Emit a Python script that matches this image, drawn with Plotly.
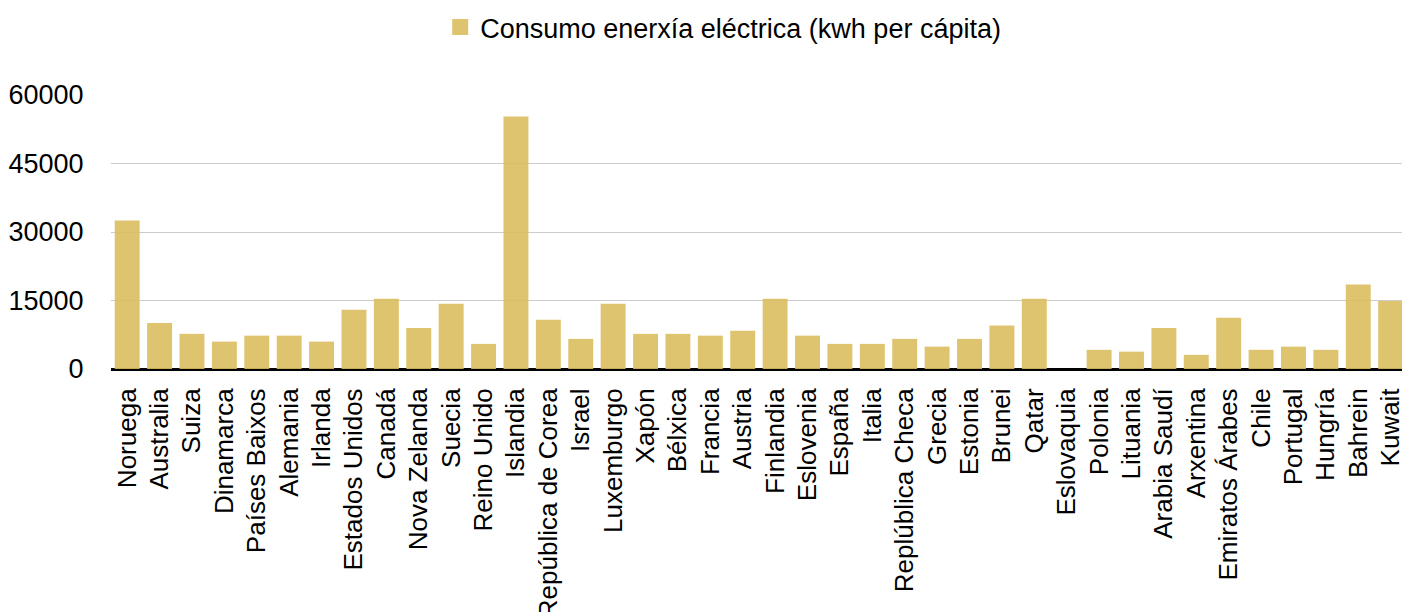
import plotly.graph_objects as go

# Electricity consumption per capita by country
countries = [
    "Noruega", "Australia", "Suiza", "Dinamarca", "Países Baixos", "Alemania",
    "Irlanda", "Estados Unidos", "Canadá", "Nova Zelanda", "Suecia", "Reino Unido",
    "Islandia", "República de Corea", "Israel", "Luxemburgo", "Xapón", "Bélxica",
    "Francia", "Austria", "Finlandia", "Eslovenia", "España", "Italia",
    "Replública Checa", "Grecia", "Estonia", "Brunei", "Qatar", "Eslovaquia",
    "Polonia", "Lituania", "Arabia Saudí", "Arxentina", "Emiratos Árabes", "Chile",
    "Portugal", "Hungría", "Bahrein", "Kuwait",
]
consumo_kwh = [
    32500, 10100, 7700, 6000, 7300, 7300,
    6000, 13000, 15400, 9000, 14300, 5500,
    55300, 10800, 6600, 14300, 7700, 7700,
    7300, 8400, 15400, 7300, 5500, 5500,
    6600, 4900, 6600, 9500, 15400, 0,
    4200, 3800, 9000, 3100, 11200, 4200,
    4900, 4200, 18500, 14900,
]
y_ticks = [0, 15000, 30000, 45000, 60000]
series_name = "Consumo enerxía eléctrica (kwh per cápita)"

bar_color = "rgba(219,190,97,0.9)"
font_family = "Liberation Sans, Arial, Helvetica, sans-serif"

fig = go.Figure()
fig.add_trace(go.Bar(
    x=countries,
    y=consumo_kwh,
    marker=dict(color=bar_color, line=dict(width=0)),
    showlegend=False,
    name=series_name,
))
# Legend entry with a larger square swatch
fig.add_trace(go.Scatter(
    x=[None], y=[None],
    mode="markers",
    marker=dict(symbol="square", size=16, color=bar_color),
    name=series_name,
    showlegend=True,
))

fig.update_layout(
    width=1402,
    height=612,
    margin=dict(l=111, r=0, t=95, b=243, pad=0),
    paper_bgcolor="white",
    plot_bgcolor="white",
    font=dict(family=font_family, size=26, color="#000000"),
    bargap=0.23,
    legend=dict(
        orientation="h",
        x=0.255, xanchor="left",
        y=0.995, yanchor="top", yref="container",
        font=dict(size=27, color="#000000"),
        bgcolor="rgba(0,0,0,0)",
    ),
    xaxis=dict(
        type="category",
        range=[-0.5, 39.35],
        tickangle=-90,
        showgrid=False,
        showline=False,
        ticks="outside",
        ticklen=8,
        tickcolor="rgba(0,0,0,0)",
        tickfont=dict(size=26),
        automargin=False,
        fixedrange=True,
    ),
    yaxis=dict(
        range=[0, 60000],
        tickvals=y_ticks,
        ticktext=[str(v) for v in y_ticks],
        showgrid=True,
        gridcolor="#cccccc",
        gridwidth=1,
        zeroline=True,
        zerolinecolor="#000000",
        zerolinewidth=3,
        showline=False,
        ticks="outside",
        ticklen=21,
        tickcolor="rgba(0,0,0,0)",
        tickfont=dict(size=27),
        automargin=False,
        fixedrange=True,
    ),
)

fig.write_html("out.html")
